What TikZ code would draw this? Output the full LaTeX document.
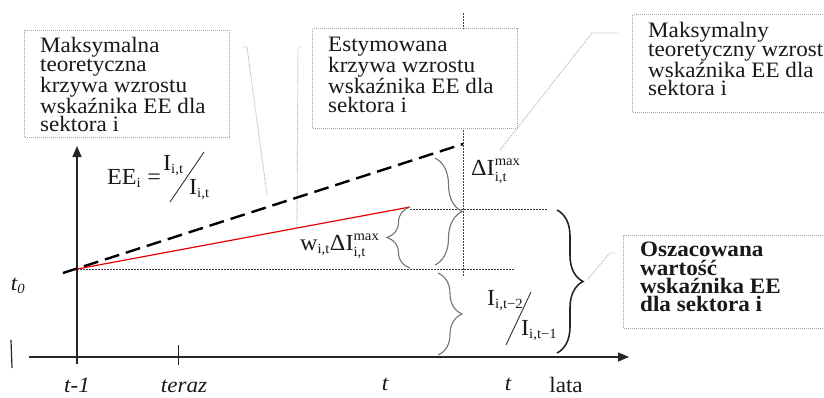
\documentclass[tikz,border=0pt]{standalone}
\usepackage{fontspec}
\setmainfont{Liberation Serif}[FakeStretch=1.05]
\usetikzlibrary{arrows.meta,decorations.pathreplacing}
\newcommand{\ssz}{\fontsize{14}{14}\selectfont}
\newcommand{\SupSub}[2]{$^{\hbox{\ssz #1}}_{\hbox{\ssz #2}}$}
\newcommand{\Sub}[1]{$_{\hbox{\ssz #1}}$}
\begin{document}
\begin{tikzpicture}[x=1pt,y=-1pt,
  txt/.style={font=\fontsize{22}{18.4}\selectfont, align=left, inner sep=0pt, anchor=north west, text=black!90},
  lab/.style={font=\fontsize{23}{23}\selectfont, inner sep=0pt, anchor=base west, text=black!90},
  axlab/.style={font=\fontsize{22}{22}\selectfont\itshape, inner sep=0pt, anchor=base, text=black!90},
  box/.style={draw=black!35, line width=1.1pt, dash pattern=on 1pt off 1pt, fill=white, anchor=north west, inner sep=0pt},
  conn/.style={draw=black!30, line width=0.9pt, dash pattern=on 1pt off 1pt},
  guide/.style={draw=black!75, line width=0.8pt, dash pattern=on 1.5pt off 1.5pt},
  axis/.style={draw=black!85, line width=1.3pt},
  tip/.style={-{Triangle[length=11pt,width=9pt]}},
  gbrace/.style={draw=black!55, line width=1.1pt, decorate, decoration={brace, amplitude=#1}},
  kbrace/.style={draw=black!85, line width=1.6pt, decorate, decoration={brace, amplitude=#1}},
  slash/.style={draw=black!80, line width=0.9pt}
]
\useasboundingbox (0,0) rectangle (824,397);

% guide lines
\coordinate (vtop) at (463,13);
\coordinate (vbot) at (463,277);
\draw[guide] (vtop) -- (vbot);
\coordinate (hAa) at (77,269);
\coordinate (hAb) at (514,269);
\draw[guide] (hAa) -- (hAb);
\coordinate (hBa) at (410,209);
\coordinate (hBb) at (547,209);
\draw[guide] (hBa) -- (hBb);

% connectors (light dotted)
\coordinate (c1a) at (242,47); \coordinate (c1b) at (247,47); \coordinate (c1c) at (267,195);
\draw[conn] (c1a) -- (c1b) -- (c1c);
\coordinate (c2a) at (301,47); \coordinate (c2b) at (298,47); \coordinate (c2c) at (297,227);
\draw[conn] (c2a) -- (c2b) -- (c2c);
\coordinate (c3a) at (618,33); \coordinate (c3b) at (592,33); \coordinate (c3c) at (500,150);
\draw[conn] (c3a) -- (c3b) -- (c3c);
\coordinate (c4a) at (615,253); \coordinate (c4b) at (610,253); \coordinate (c4c) at (587,280);
\draw[conn] (c4a) -- (c4b) -- (c4c);

% boxes
\node[box, minimum width=205pt, minimum height=107pt] (b1) at (24,30) {};
\node[box, minimum width=205pt, minimum height=100pt] (b2) at (312,28) {};
\node[box, minimum width=200pt, minimum height=98pt] (b3) at (632,14) {};
\node[box, minimum width=210pt, minimum height=93pt] (b4) at (623,235) {};

\node[txt] (t1) at (40,37.2) {Maksymalna\\teoretyczna\\krzywa wzrostu\\wskaźnika EE dla\\sektora i};
\node[txt] (t2) at (328,37.2) {Estymowana\\krzywa wzrostu\\wskaźnika EE dla\\sektora i};
\node[txt] (t3) at (648,22.2) {Maksymalny\\teoretyczny wzrost\\wskaźnika EE dla\\sektora i};
\node[txt, font=\fontsize{22}{18.4}\selectfont\bfseries] (t4) at (640,242) {Oszacowana\\wartość\\wskaźnika EE\\dla sektora i};

% axes
\coordinate (ybot) at (77,364);
\coordinate (ytop) at (77,146);
\draw[axis, tip] (ybot) -- (ytop);
\coordinate (xl) at (29,357);
\coordinate (xr) at (629,357);
\draw[axis, tip] (xl) -- (xr);
\coordinate (tk1) at (178,345); \coordinate (tk2) at (178,365);
\draw[axis, line width=1pt] (tk1) -- (tk2);
\coordinate (bar1) at (11,340); \coordinate (bar2) at (12,368);
\draw[axis, line width=1.2pt] (bar1) -- (bar2);

% curves
\coordinate (dA) at (63,273); \coordinate (dB) at (463,144);
\draw[black, line width=2.4pt, dash pattern=on 15pt off 7pt] (dA) -- (dB);
\coordinate (rA) at (77,269); \coordinate (rB) at (410,207);
\draw[red!90!black, line width=1.2pt] (rA) -- (rB);

% braces
\coordinate (br1a) at (435,158); \coordinate (br1b) at (435,265);
\draw[gbrace=27pt] (br1a) -- (br1b);
\coordinate (br2a) at (410,268); \coordinate (br2b) at (410,207);
\draw[gbrace=23pt] (br2a) -- (br2b);
\coordinate (br3a) at (438,273); \coordinate (br3b) at (438,355);
\draw[gbrace=24pt] (br3a) -- (br3b);
\coordinate (br4a) at (557,210); \coordinate (br4b) at (557,353);
\draw[kbrace=26pt] (br4a) -- (br4b);

% labels
\node[lab] (dI) at (471,175) {ΔI\SupSub{max}{i,t}};
\node[lab] (wdI) at (300,250) {w\Sub{i,t}ΔI\SupSub{max}{i,t}};
\node[lab] (ee) at (107,184) {EE\Sub{i} =};
\node[lab] (een) at (163,170) {I\Sub{i,t}};
\coordinate (s1a) at (170,202); \coordinate (s1b) at (204,152);
\draw[slash] (s1a) -- (s1b);
\node[lab] (eed) at (189,194) {I\Sub{i,t}};
\node[lab] (qn) at (487,305) {I\Sub{i,t−2}};
\coordinate (s2a) at (506,345); \coordinate (s2b) at (531,292);
\draw[slash] (s2a) -- (s2b);
\node[lab] (qd) at (521,335) {I\Sub{i,t−1}};

% axis labels
\node[axlab] (tzero) at (18,290) {t\Sub{\itshape 0}};
\node[axlab] (tm1) at (77,392) {t-1};
\node[axlab] (ter) at (184,392) {teraz};
\node[axlab] (tt1) at (385,390) {t};
\node[axlab] (tt2) at (508,390) {t};
\node[axlab, font=\fontsize{22}{22}\selectfont] (lata) at (566,392) {lata};
\end{tikzpicture}
\end{document}
